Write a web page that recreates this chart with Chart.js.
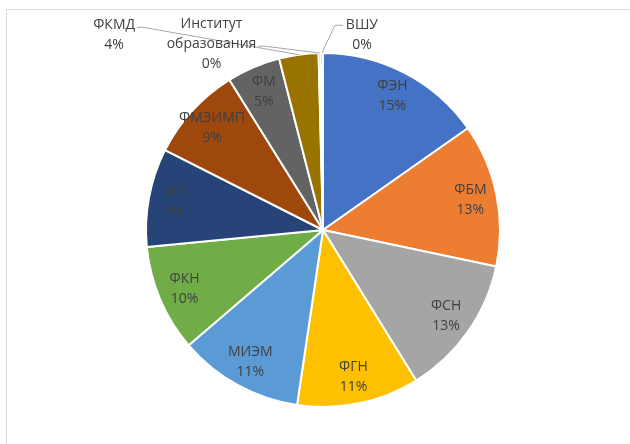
<!DOCTYPE html>
<html>
<head>
<meta charset="utf-8">
<script src="https://cdn.jsdelivr.net/npm/chart.js@4"></script>
<style>
    body { margin: 0; background: #fff; }
    #wrap { position: relative; width: 630px; height: 444px; overflow: hidden; }
    #frame { position: absolute; left: 6px; top: 9px; width: 640px; height: 450px; border: 1px solid #d9d9d9; box-sizing: border-box; }
    canvas { position: absolute; left: 0; top: 0; }
</style>
</head>
<body>
<div id="wrap">
    <div id="frame"></div>
    <canvas id="chart" width="630" height="444"></canvas>
</div>
<script>
const faculties = ['ФЭН', 'ФБМ', 'ФСН', 'ФГН', 'МИЭМ', 'ФКН', 'ФП', 'ФМЭИМП', 'ФМ', 'ФКМД', 'Институт образования', 'ВШУ'];
const counts = [153, 131, 129, 112, 114, 98, 90, 87, 49, 36, 2, 2];
const colors = ['#4472c4', '#ed7d31', '#a5a5a5', '#ffc000', '#5b9bd5', '#70ad47', '#264478', '#9e480e', '#636363', '#997300', '#255e91', '#43682b'];

// подписи снаружи: смещение от центра в долях радиуса
const outsideLabels = {
    9: { dx: -1.18, dy: -1.10, lines: ['ФКМД'] },
    10: { dx: -0.63, dy: -1.05, lines: ['Институт', 'образования'] },
    11: { dx: 0.22, dy: -1.10, lines: ['ВШУ'] }
};

const pieLabels = {
    id: 'pieLabels',
    afterDatasetsDraw(chart) {
        const ctx = chart.ctx;
        const meta = chart.getDatasetMeta(0);
        const total = counts.reduce((a, b) => a + b, 0);
        ctx.save();
        ctx.font = '14px "Open Sans", sans-serif';
        ctx.fillStyle = '#404040';
        ctx.textAlign = 'center';
        ctx.textBaseline = 'middle';
        meta.data.forEach((arc, i) => {
            const pct = Math.round(counts[i] / total * 100) + '%';
            const mid = (arc.startAngle + arc.endAngle) / 2;
            const r = arc.outerRadius;
            const out = outsideLabels[i];
            if (out) {
                const lx = arc.x + out.dx * r;
                const ly = arc.y + out.dy * r;
                const lines = out.lines.concat([pct]);
                const lh = 20;
                const y0 = ly - (lines.length - 1) * lh / 2;
                // линия-выноска
                const ax = arc.x + Math.cos(mid) * r;
                const ay = arc.y + Math.sin(mid) * r;
                const w = ctx.measureText(out.lines[0]).width;
                const wl = ctx.measureText(out.lines[out.lines.length - 1]).width;
                ctx.strokeStyle = '#a6a6a6';
                ctx.lineWidth = 1;
                ctx.beginPath();
                if (out.dx > 0) {
                    const sx = lx - w / 2 - 3;
                    ctx.moveTo(sx, y0);
                    ctx.lineTo(sx - 8, y0);
                    ctx.lineTo(ax, ay);
                } else {
                    const row = out.lines.length - 1;
                    const sx = lx + wl / 2 + 2;
                    ctx.moveTo(sx, y0 + row * lh + 2);
                    ctx.lineTo(sx + 6, y0 + row * lh + 2);
                    ctx.lineTo(ax, ay);
                }
                ctx.stroke();
                lines.forEach((t, k) => ctx.fillText(t, lx, y0 + k * lh));
            } else {
                const lr = r * 0.85;
                const lx = arc.x + Math.cos(mid) * lr;
                const ly = arc.y + Math.sin(mid) * lr;
                ctx.fillText(faculties[i], lx, ly - 10);
                ctx.fillText(pct, lx, ly + 10);
            }
        });
        ctx.restore();
    }
};

new Chart(document.getElementById('chart'), {
    type: 'pie',
    data: {
        labels: faculties,
        datasets: [{
            data: counts,
            backgroundColor: colors,
            borderColor: '#ffffff',
            borderWidth: 2
        }]
    },
    options: {
        responsive: false,
        animation: false,
        layout: { padding: { left: 16, right: 0, top: 52, bottom: 36 } },
        plugins: {
            legend: { display: false },
            tooltip: { enabled: false }
        }
    },
    plugins: [pieLabels]
});
</script>
</body>
</html>
